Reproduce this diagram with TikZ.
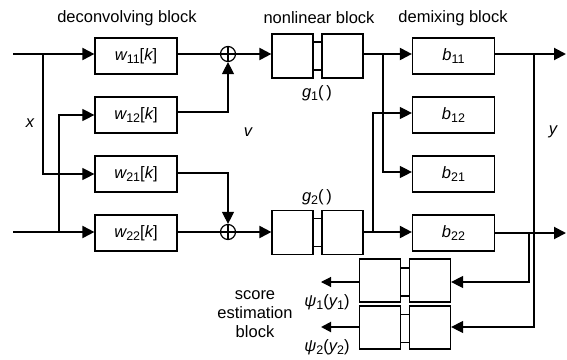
\documentclass[tikz,border=0pt]{standalone}
\usepackage{fontspec}
\setmainfont{Liberation Sans}
\usetikzlibrary{arrows.meta,calc}
\newcommand{\vsub}[1]{\raisebox{-0.32ex}{\fontsize{12.5}{13}\selectfont #1}}
\newcommand{\iv}[1]{{\itshape #1}}
\begin{document}
\begin{tikzpicture}[x=1pt,y=-1pt,
  box/.style={draw,line width=1.2pt,minimum width=82pt,minimum height=36pt,inner sep=0pt,font=\fontsize{16.5}{18}\selectfont},
  half/.style={draw,line width=1.2pt,minimum width=41pt,minimum height=44pt,inner sep=0pt},
  midr/.style={draw,line width=1.1pt,minimum width=9pt,minimum height=28pt,inner sep=0pt},
  sumnode/.style={draw,circle,line width=1.2pt,minimum size=15pt,inner sep=0pt},
  thk/.style={line width=2pt},
  thn/.style={line width=1.1pt},
  arr/.style={-{Triangle[length=12pt,width=12pt]}},
  sarr/.style={-{Triangle[length=10pt,width=10pt]}},
  lbl/.style={font=\fontsize{16.5}{18}\selectfont,inner sep=0pt},
]
\useasboundingbox (0,0) rectangle (567,359);

% titles
\node[lbl] (t1) at (127,18) {deconvolving block};
\node[lbl] (t2) at (319,18) {nonlinear block};
\node[lbl] (t3) at (453,18) {demixing block};

% deconvolving boxes
\node[box] (w11) at (136,56) {\iv{w}\vsub{11}[\iv{k}]};
\node[box] (w12) at (136,115) {\iv{w}\vsub{12}[\iv{k}]};
\node[box] (w21) at (136,174) {\iv{w}\vsub{21}[\iv{k}]};
\node[box] (w22) at (136,233) {\iv{w}\vsub{22}[\iv{k}]};

% sums
\node[sumnode] (s1) at (228,54) {};
\node[sumnode] (s2) at (228,232) {};
\foreach \s in {s1,s2}{
  \draw[line width=1.1pt] (\s.north) -- (\s.south) (\s.west) -- (\s.east);
}

% nonlinear blocks
\node[half] (g1a) at (292.5,56) {};
\node[half] (g1b) at (342.5,56) {};
\node[midr] (g1m) at (317.5,56) {};
\node[half] (g2a) at (292.5,232.5) {};
\node[half] (g2b) at (342.5,232.5) {};
\node[midr] (g2m) at (317.5,232.5) {};
\node[lbl] (g1l) at (317,93) {\iv{g}\vsub{1}(\,)};
\node[lbl] (g2l) at (317,197) {\iv{g}\vsub{2}(\,)};

% demixing boxes
\node[box] (b11) at (453.5,56) {\iv{b}\vsub{11}};
\node[box] (b12) at (453.5,115) {\iv{b}\vsub{12}};
\node[box] (b21) at (453.5,174) {\iv{b}\vsub{21}};
\node[box] (b22) at (453.5,233) {\iv{b}\vsub{22}};

% score estimation blocks
\node[half,minimum height=43pt] (p1a) at (380,280.5) {};
\node[half,minimum height=43pt] (p1b) at (430,280.5) {};
\node[midr] (p1m) at (405,282) {};
\node[half,minimum height=43pt] (p2a) at (380,327.5) {};
\node[half,minimum height=43pt] (p2b) at (430,327.5) {};
\node[midr] (p2m) at (405,328.5) {};
\node[lbl] (psi1) at (327,302) {\iv{ψ}\vsub{1}(\iv{y}\vsub{1})};
\node[lbl] (psi2) at (327,347) {\iv{ψ}\vsub{2}(\iv{y}\vsub{2})};
\node[lbl,align=center] (sc) at (255,314) {score\\[1.2pt]estimation\\[1.2pt]block};

% variable labels
\node[lbl] (xl) at (30,123) {\iv{x}};
\node[lbl] (vl) at (248,132) {\iv{v}};
\node[lbl] (yl) at (553,132) {\iv{y}};

% coordinates
\coordinate (in1) at (13,54);
\coordinate (in2) at (13,232);
\coordinate (j1) at (43,54);
\coordinate (j2) at (59,232);
\coordinate (out1) at (566,54);
\coordinate (out2) at (566,233);
\coordinate (pl1) at (321,282);
\coordinate (pl2) at (321,327);

% input side
\draw[thk,arr] (in1) -- (in1 -| w11.west);
\draw[thk,arr] (in2) -- (in2 -| w22.west);
\draw[thn,arr] (j1) |- (w21.west);
\draw[thn,arr] (j2) |- (w12.west);

% to sums
\draw[thk] (w11.east |- s1) -- (s1.west);
\draw[thk] (w22.east |- s2) -- (s2.west);
\draw[thn,arr] (w12.east |- 0,112) -| (s1.south);
\draw[thn,arr] (w21.east |- 0,173) -| (s2.north);

% sums to nonlinear
\draw[thk,arr] (s1.east) -- (s1 -| g1a.west);
\draw[thk,arr] (s2.east) -- (s2 -| g2a.west);

% nonlinear to demixing
\coordinate (k1) at (383,54);
\coordinate (k2) at (373,232);
\draw[thk,arr] (g1b.east |- k1) -- (k1 -| b11.west);
\draw[thk,arr] (g2b.east |- k2) -- (k2 -| b22.west);
\draw[thn,arr] (k1) |- (b21.west |- 0,172);
\draw[thn,arr] (k2) |- (b12.west |- 0,113);

% outputs
\draw[thk,arr] (b11.east |- out1) -- (out1);
\draw[thk,arr] (b22.east |- out2) -- (out2);
\coordinate (m1) at (534,54);
\coordinate (m2) at (529,233);
\draw[thn,arr] (m1) |- (p2b.east |- pl2);
\draw[thn,arr] (m2) |- (p1b.east |- pl1);

% score outputs
\draw[thn,sarr] (p1a.west |- pl1) -- (pl1);
\draw[thk,sarr] (p2a.west |- pl2) -- (pl2);
\end{tikzpicture}
\end{document}
